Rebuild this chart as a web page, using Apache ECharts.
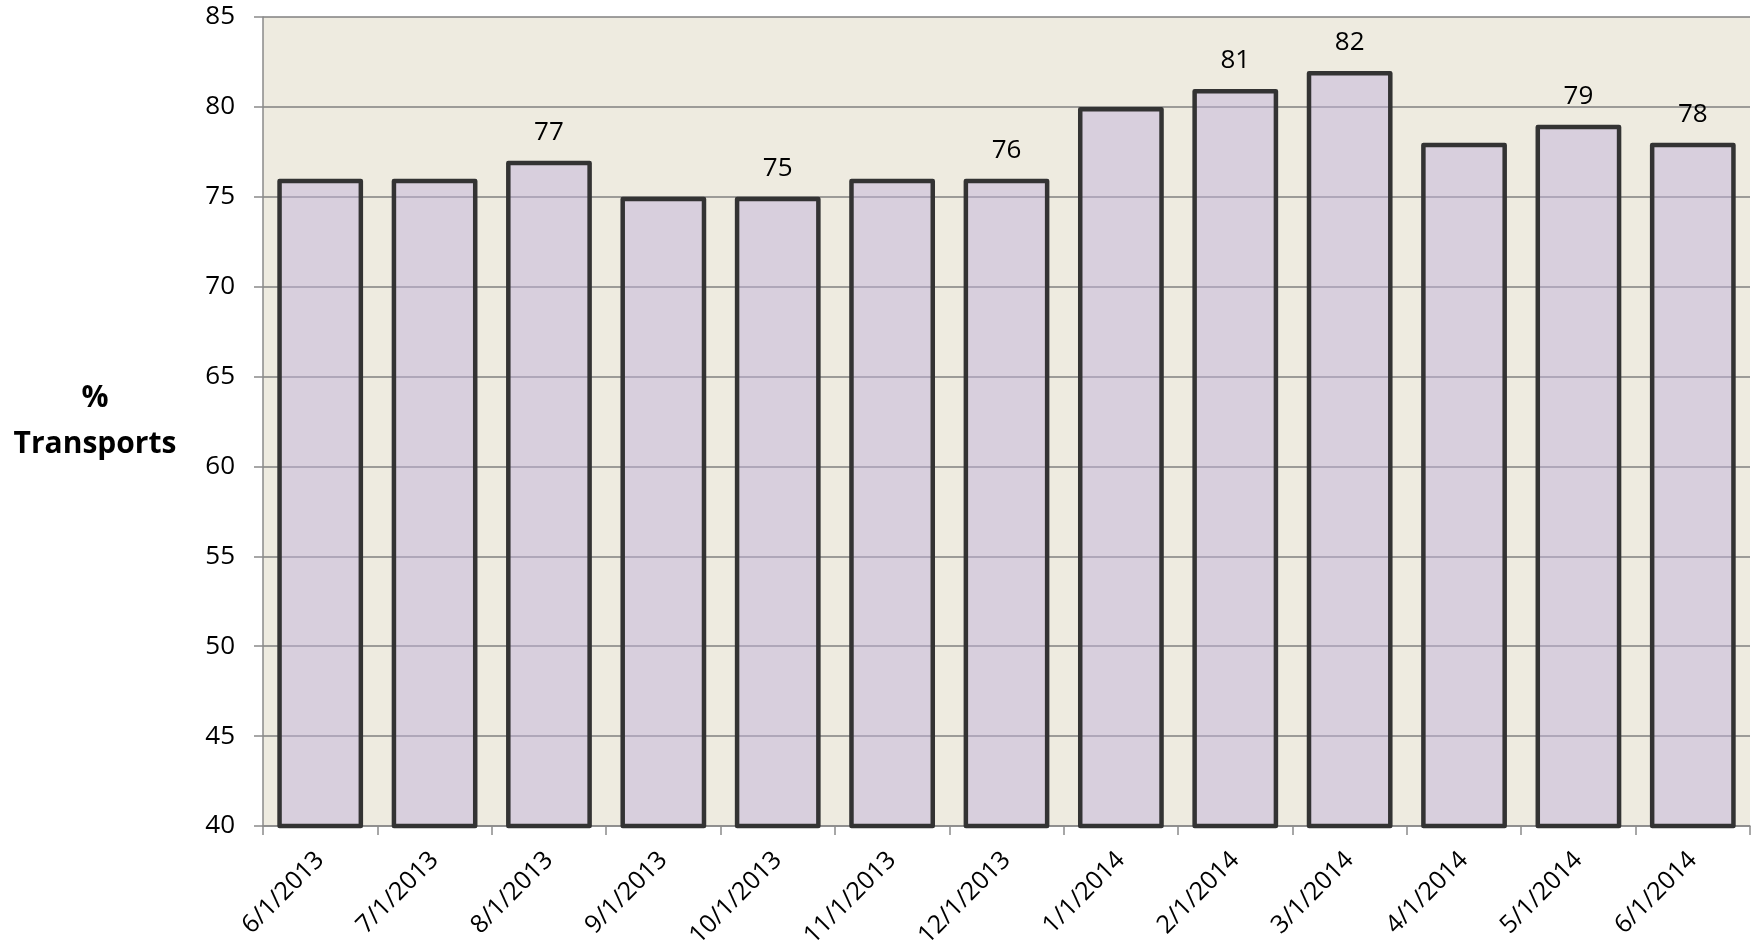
<!DOCTYPE html>
<html>
<head>
<meta charset="utf-8">
<script src="https://cdn.jsdelivr.net/npm/echarts@6/dist/echarts.min.js"></script>
<style>
html,body{margin:0;padding:0;background:#fff;}
#chart{width:1756px;height:951px;}
</style>
</head>
<body>
<div id="chart"></div>
<script>
const categories = ['6/1/2013','7/1/2013','8/1/2013','9/1/2013','10/1/2013','11/1/2013','12/1/2013','1/1/2014','2/1/2014','3/1/2014','4/1/2014','5/1/2014','6/1/2014'];
const values = [76, 76, 77, 75, 75, 76, 76, 80, 81, 82, 78, 79, 78];
const labelShown = [false, false, true, false, true, false, true, false, true, true, false, true, true];
const yTicks = { min: 40, max: 85, interval: 5 };
const axisName = '%\nTransports';

const FONT = '"Open Sans", sans-serif';
const chart = echarts.init(document.getElementById('chart'));
chart.setOption({
  animation: false,
  backgroundColor: '#ffffff',
  grid: {
    left: 263, right: 6, top: 17, bottom: 125,
    show: true, backgroundColor: '#EEEBE0', borderWidth: 0
  },
  xAxis: {
    type: 'category',
    data: categories,
    axisLine: { show: true, lineStyle: { color: '#8a8a8a', width: 1.5 } },
    axisTick: { show: true, length: 9, lineStyle: { color: '#8a8a8a', width: 1.5 } },
    axisLabel: { rotate: 45, margin: 30, fontFamily: FONT, fontSize: 25, color: '#000' },
    splitLine: { show: false }
  },
  yAxis: {
    type: 'value',
    min: yTicks.min, max: yTicks.max, interval: yTicks.interval,
    name: axisName,
    nameLocation: 'middle',
    nameRotate: 0,
    nameGap: 168,
    nameTextStyle: { fontFamily: FONT, fontSize: 30, fontWeight: 'bold', color: '#000', align: 'center', lineHeight: 46, padding: [10, 0, 0, 0] },
    axisLine: { show: true, lineStyle: { color: '#8a8a8a', width: 1.5 } },
    axisTick: { show: true, length: 9, lineStyle: { color: '#8a8a8a', width: 1.5 } },
    axisLabel: { margin: 28, fontFamily: FONT, fontSize: 26, color: '#000' },
    splitLine: { show: true, lineStyle: { color: '#808080', width: 1.5 } }
  },
  series: [{
    type: 'bar',
    barCategoryGap: '25%',
    z: 3,
    data: values.map((v, i) => ({
      value: v,
      label: { show: labelShown[i] }
    })),
    itemStyle: {
      color: 'rgba(193,179,218,0.5)',
      borderColor: '#333333',
      borderWidth: 4.5,
      borderJoin: 'round'
    },
    label: {
      position: 'top',
      distance: 15,
      fontFamily: FONT,
      fontSize: 26,
      color: '#000'
    }
  }]
});
</script>
</body>
</html>
